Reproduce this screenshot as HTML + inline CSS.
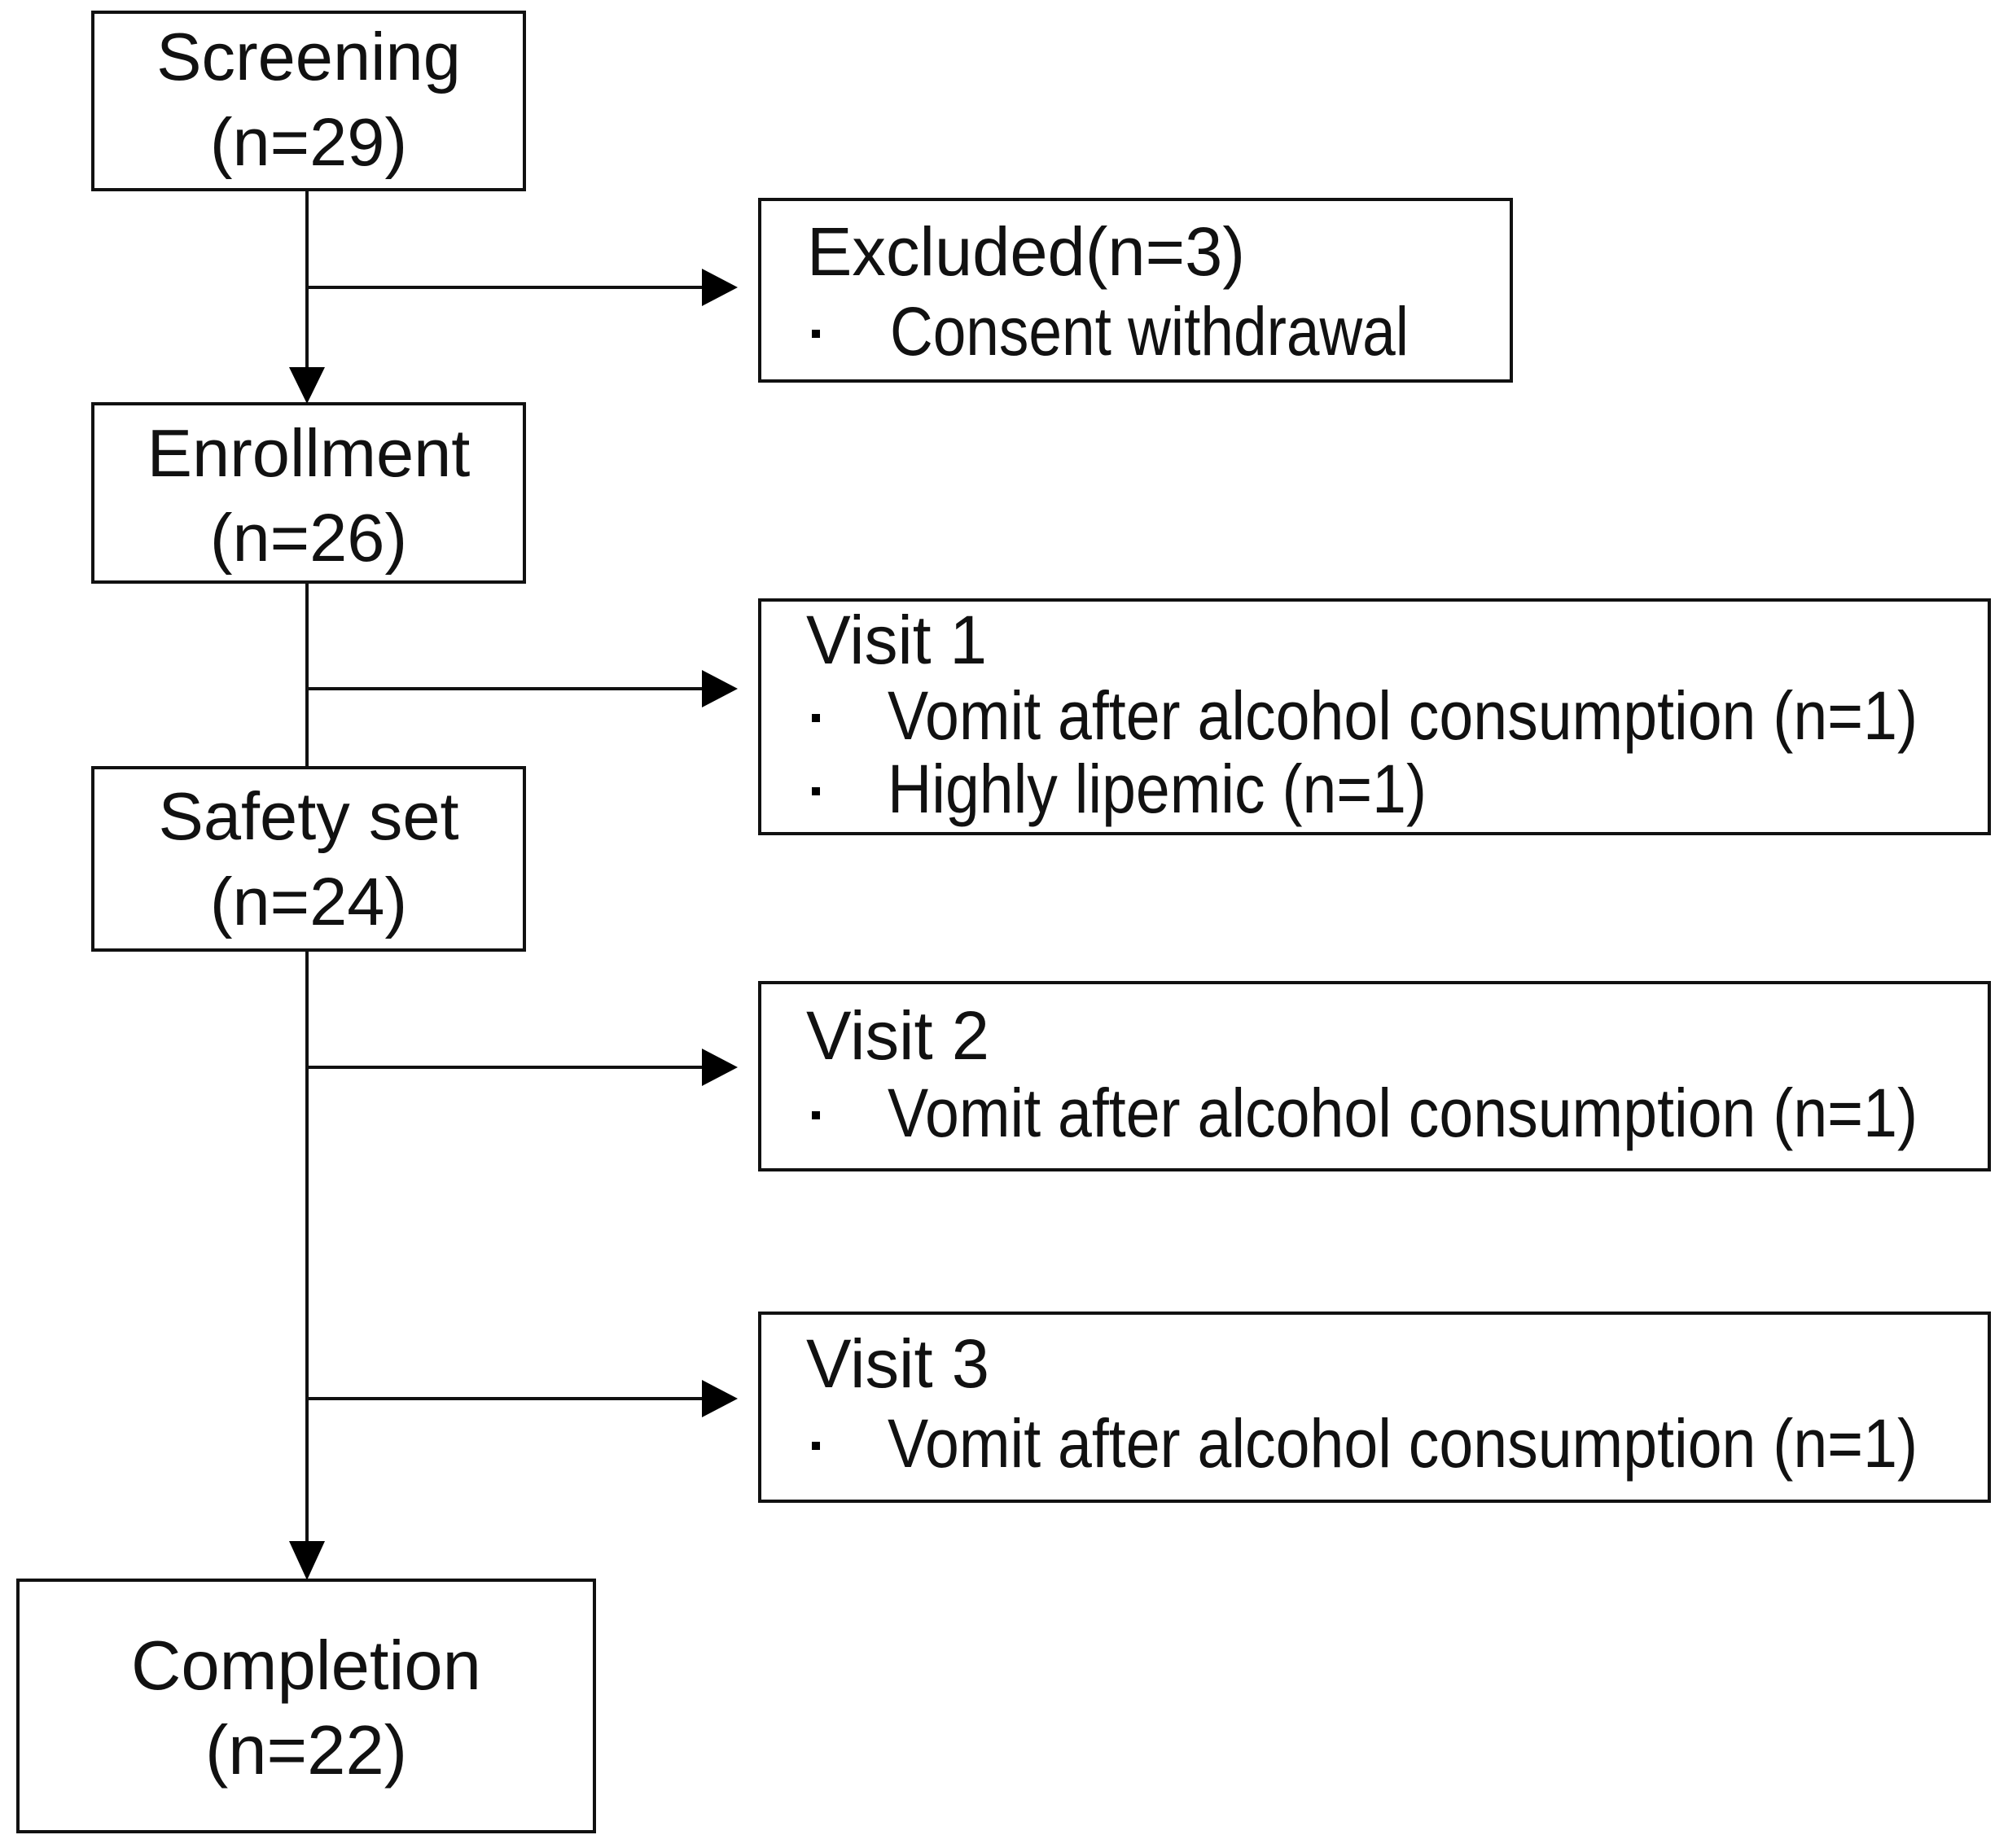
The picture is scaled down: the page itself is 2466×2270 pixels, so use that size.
<!DOCTYPE html>
<html><head><meta charset="utf-8"><style>html,body{margin:0;padding:0;background:#fff}svg{display:block}</style></head>
<body>
<svg width="2466" height="2270" viewBox="0 0 2466 2270" xmlns="http://www.w3.org/2000/svg" font-family="Liberation Sans, Arial, sans-serif" fill="#111">
<g fill="none" stroke="#111" stroke-width="4">
<rect x="114" y="15" width="530" height="218"/>
<rect x="114" y="496" width="530" height="219"/>
<rect x="114" y="943" width="530" height="224"/>
<rect x="22" y="1941" width="708" height="309"/>
<rect x="933" y="245" width="923" height="223"/>
<rect x="933" y="737" width="1510" height="287"/>
<rect x="933" y="1207" width="1510" height="230"/>
<rect x="933" y="1613" width="1510" height="231"/>
<line x1="377" y1="233" x2="377" y2="455"/>
<line x1="377" y1="715" x2="377" y2="943"/>
<line x1="377" y1="1167" x2="377" y2="1897"/>
<line x1="377" y1="353" x2="866" y2="353"/>
<line x1="377" y1="846" x2="866" y2="846"/>
<line x1="377" y1="1311" x2="866" y2="1311"/>
<line x1="377" y1="1718" x2="866" y2="1718"/>
</g>
<g fill="#000">
<polygon points="355,451 399,451 377,496"/>
<polygon points="355,1893 399,1893 377,1941"/>
<polygon points="862,330 862,376 906,353"/>
<polygon points="862,823 862,869 906,846"/>
<polygon points="862,1288 862,1334 906,1311"/>
<polygon points="862,1695 862,1741 906,1718"/>
</g>
<g font-size="83" text-anchor="middle">
<text x="379" y="98">Screening</text>
<text x="379" y="203">(n=29)</text>
<text x="379" y="585">Enrollment</text>
<text x="379" y="689">(n=26)</text>
<text x="379" y="1031">Safety set</text>
<text x="379" y="1136">(n=24)</text>
<text x="376" y="2075" font-size="85">Completion</text>
<text x="376" y="2179" font-size="85">(n=22)</text>
</g>
<g font-size="84">
<text x="991" y="338" textLength="538" lengthAdjust="spacingAndGlyphs">Excluded(n=3)</text>
<text x="1093" y="436" textLength="637" lengthAdjust="spacingAndGlyphs">Consent withdrawal</text>
<text x="990" y="815" textLength="222" lengthAdjust="spacingAndGlyphs">Visit 1</text>
<text x="1090" y="908" textLength="1265" lengthAdjust="spacingAndGlyphs">Vomit after alcohol consumption (n=1)</text>
<text x="1090" y="998" textLength="662" lengthAdjust="spacingAndGlyphs">Highly lipemic (n=1)</text>
<text x="990" y="1301" textLength="225" lengthAdjust="spacingAndGlyphs">Visit 2</text>
<text x="1090" y="1396" textLength="1265" lengthAdjust="spacingAndGlyphs">Vomit after alcohol consumption (n=1)</text>
<text x="990" y="1704" textLength="225" lengthAdjust="spacingAndGlyphs">Visit 3</text>
<text x="1090" y="1802" textLength="1265" lengthAdjust="spacingAndGlyphs">Vomit after alcohol consumption (n=1)</text>
</g>
<g fill="#000">
<rect x="997" y="405" width="10" height="10"/>
<rect x="997" y="877" width="10" height="10"/>
<rect x="997" y="967" width="10" height="10"/>
<rect x="997" y="1365" width="10" height="10"/>
<rect x="997" y="1771" width="10" height="10"/>
</g>
</svg>
</body></html>
